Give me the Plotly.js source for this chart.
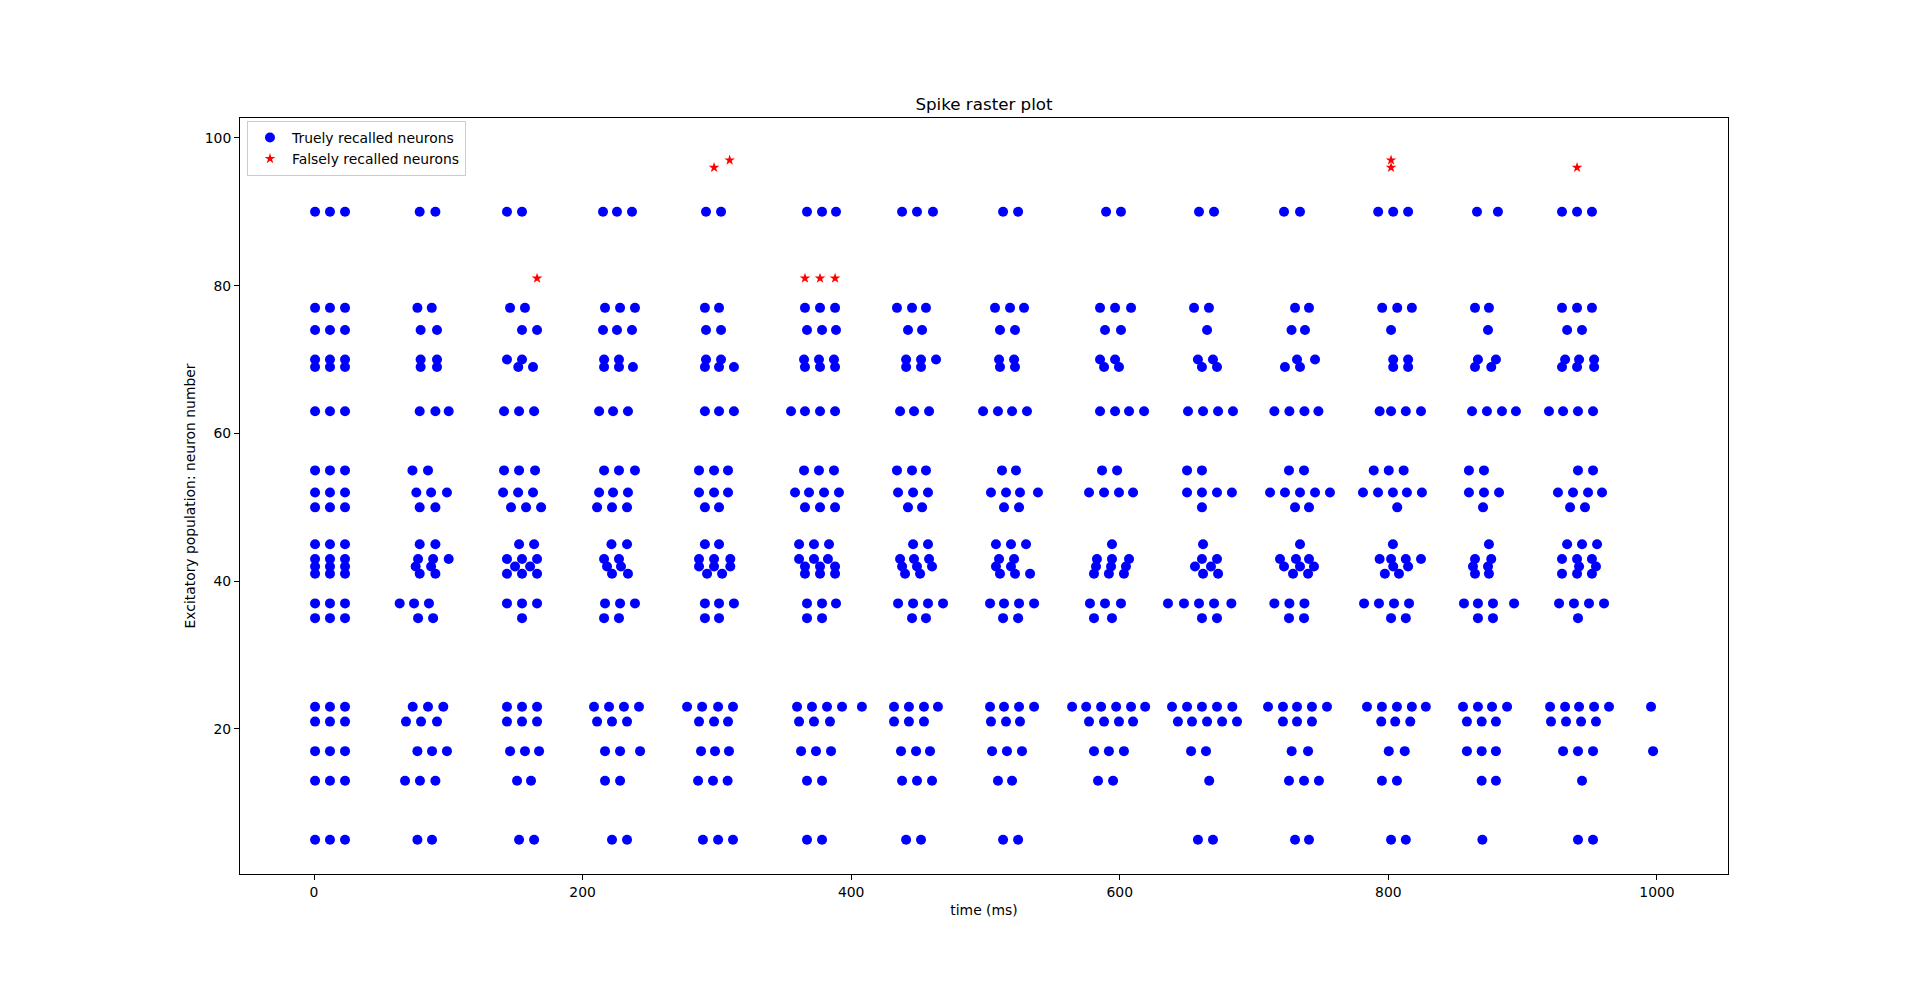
<!DOCTYPE html>
<html>
<head>
<meta charset="utf-8">
<script src="https://cdn.plot.ly/plotly-3.0.1.min.js"></script>
<style>html,body{margin:0;padding:0;background:#fff;}#chart{width:1920px;height:982px;}</style>
</head>
<body>
<div id="chart"></div>
<script>
// Neuron numbers (excitatory population) that fire in the recalled pattern
const neuronIds = [5, 13, 17, 21, 23, 35, 37, 41, 42, 43, 45, 50, 52, 55, 63, 69, 70, 74, 77, 90];

// Spike times (ms) of truly recalled neurons, one array per neuron
const t5  = [0.8, 11.9, 23.1, 77.0, 87.9, 152.7, 163.9, 221.9, 233.1, 289.6, 300.9, 312.0, 367.1, 378.3, 440.9, 452.0, 513.1, 524.3, 658.2, 669.4, 730.5, 740.9, 802.0, 813.0, 870.0, 941.2, 952.4];
const t13 = [0.8, 11.9, 23.1, 67.8, 78.9, 90.4, 151.2, 161.6, 216.7, 227.9, 286.0, 297.1, 308.0, 367.1, 378.3, 437.9, 449.0, 460.2, 509.3, 519.8, 583.8, 595.0, 666.6, 726.0, 737.2, 748.3, 795.2, 806.4, 869.5, 880.1, 944.2];
const t17 = [0.8, 11.9, 23.1, 77.0, 87.9, 99.0, 146.0, 157.1, 167.6, 216.7, 227.9, 242.8, 288.2, 298.6, 309.0, 362.7, 373.8, 385.0, 437.1, 448.3, 458.7, 504.9, 516.0, 527.2, 580.8, 591.9, 603.1, 653.1, 664.2, 728.0, 740.2, 800.3, 812.2, 858.5, 869.5, 880.1, 930.1, 941.2, 952.4, 997.1];
const t21 = [0.8, 11.9, 23.1, 68.5, 79.7, 91.6, 143.7, 154.9, 166.1, 210.8, 221.9, 233.1, 286.7, 297.9, 308.3, 361.2, 372.3, 384.2, 431.9, 443.0, 454.2, 504.1, 515.3, 525.7, 577.1, 588.3, 599.4, 609.9, 643.3, 653.8, 665.0, 676.2, 687.3, 721.5, 732.0, 743.1, 794.7, 805.1, 816.3, 858.5, 869.5, 880.1, 921.1, 932.3, 943.5, 954.6];
const t23 = [0.8, 11.9, 23.1, 73.5, 84.9, 96.3, 143.7, 154.9, 166.1, 208.5, 219.7, 230.8, 242.0, 277.8, 289.0, 300.9, 312.0, 359.7, 370.8, 382.0, 393.2, 408.0, 431.9, 443.0, 454.2, 464.6, 503.4, 513.8, 525.0, 536.2, 564.5, 575.0, 586.1, 597.3, 608.4, 618.9, 638.9, 650.1, 661.2, 672.4, 683.8, 710.4, 721.5, 732.0, 743.1, 754.3, 784.1, 795.2, 806.4, 817.5, 827.9, 855.6, 866.7, 877.2, 888.4, 920.4, 931.6, 942.0, 953.2, 964.3, 995.6];
const t35 = [0.8, 11.9, 23.1, 77.5, 88.7, 154.9, 216.0, 227.1, 291.1, 301.6, 367.1, 378.3, 445.3, 455.7, 513.1, 524.3, 580.8, 594.2, 661.2, 672.4, 726.0, 737.2, 802.0, 813.0, 866.7, 877.9, 941.2];
const t37 = [0.8, 11.9, 23.1, 63.8, 74.5, 85.6, 143.7, 154.9, 166.1, 216.7, 227.9, 239.0, 291.1, 301.6, 312.7, 367.1, 378.3, 388.7, 434.9, 446.1, 457.2, 468.4, 503.4, 513.8, 525.0, 536.2, 577.8, 589.0, 600.9, 635.9, 647.8, 659.0, 670.2, 683.1, 715.1, 726.3, 737.5, 781.9, 793.0, 804.2, 815.4, 856.3, 866.7, 877.9, 893.6, 927.1, 938.2, 949.4, 960.6];
const t41 = [0.8, 11.9, 23.1, 78.7, 90.4, 143.7, 154.9, 166.1, 221.9, 233.8, 292.7, 303.9, 365.6, 376.8, 388.0, 440.1, 451.3, 510.8, 522.0, 533.2, 580.8, 591.9, 603.1, 662.0, 673.2, 729.0, 740.2, 797.4, 807.9, 864.5, 874.9, 929.3, 940.5, 951.6];
const t42 = [0.8, 11.9, 23.1, 75.7, 87.2, 149.7, 160.9, 218.2, 228.6, 286.7, 297.9, 310.0, 365.6, 376.8, 388.0, 437.9, 449.0, 460.2, 507.8, 519.0, 582.3, 593.5, 604.6, 656.0, 667.9, 722.3, 734.2, 744.6, 803.6, 814.7, 863.0, 874.2, 942.0, 954.6];
const t43 = [0.8, 11.9, 23.1, 77.5, 88.7, 100.3, 143.7, 154.9, 166.1, 216.0, 227.1, 286.7, 297.9, 310.0, 361.2, 372.3, 382.7, 436.4, 446.8, 458.0, 510.1, 521.3, 583.0, 594.2, 606.9, 661.2, 672.4, 719.3, 731.2, 740.9, 793.5, 802.0, 813.0, 824.3, 864.5, 876.6, 929.3, 940.5, 951.6];
const t45 = [0.8, 11.9, 23.1, 78.7, 90.4, 152.7, 163.9, 221.5, 233.1, 291.1, 301.6, 361.2, 372.3, 383.5, 446.1, 457.2, 507.8, 519.0, 530.2, 594.2, 662.0, 734.2, 803.4, 874.9, 933.1, 944.2, 955.4];
const t50 = [0.8, 11.9, 23.1, 78.7, 90.4, 146.7, 157.9, 169.1, 210.8, 221.9, 233.1, 291.1, 301.6, 365.6, 376.8, 388.0, 442.3, 452.8, 513.8, 525.0, 661.2, 730.5, 740.9, 806.6, 870.5, 935.3, 946.4];
const t52 = [0.8, 11.9, 23.1, 76.2, 87.2, 99.0, 140.8, 152.0, 163.1, 212.3, 222.7, 233.8, 286.7, 297.9, 308.3, 358.2, 368.6, 379.8, 390.9, 434.9, 446.1, 457.2, 504.1, 515.3, 525.7, 539.1, 577.1, 588.3, 599.4, 609.9, 650.1, 661.2, 672.4, 683.5, 711.9, 723.0, 734.2, 745.4, 756.5, 781.1, 792.3, 803.4, 813.8, 825.0, 860.0, 871.2, 882.4, 926.3, 937.5, 948.7, 959.1];
const t55 = [0.8, 11.9, 23.1, 73.3, 84.9, 141.5, 152.7, 164.6, 216.0, 227.1, 239.0, 286.7, 297.9, 308.3, 364.9, 376.0, 387.2, 434.1, 445.3, 455.7, 512.3, 522.7, 586.8, 598.0, 650.1, 661.2, 726.0, 737.2, 789.1, 800.3, 811.4, 860.0, 871.2, 941.2, 952.4];
const t63 = [0.8, 11.9, 23.1, 78.7, 90.4, 100.3, 141.5, 152.7, 163.9, 212.3, 222.7, 233.8, 291.1, 301.6, 312.7, 355.2, 365.6, 376.8, 388.0, 436.4, 446.8, 458.0, 498.2, 509.3, 519.8, 530.9, 585.3, 596.5, 606.9, 618.1, 650.8, 662.0, 673.2, 684.3, 715.1, 726.3, 737.5, 747.9, 793.5, 802.0, 813.0, 824.3, 862.3, 873.4, 884.6, 895.0, 919.6, 930.1, 941.2, 952.4];
const t69 = [0.8, 11.9, 23.1, 79.4, 91.6, 152.1, 163.1, 216.0, 227.1, 237.5, 291.1, 301.6, 312.7, 365.6, 376.8, 388.0, 440.9, 452.0, 510.8, 522.0, 588.3, 599.4, 661.2, 672.4, 723.0, 734.2, 803.6, 814.7, 864.5, 876.6, 929.3, 940.5, 953.2];
const t70 = [0.8, 11.9, 23.1, 79.4, 91.6, 143.7, 154.9, 216.0, 227.1, 291.9, 303.1, 364.9, 376.0, 387.2, 440.9, 452.0, 463.2, 510.1, 521.3, 585.3, 596.5, 658.2, 669.4, 732.0, 745.4, 803.6, 814.7, 866.7, 880.1, 931.6, 942.0, 953.2];
const t74 = [0.8, 11.9, 23.1, 79.4, 91.6, 154.9, 166.1, 215.2, 225.6, 236.8, 291.9, 303.1, 367.1, 378.3, 388.7, 442.3, 452.8, 510.8, 522.0, 589.0, 600.9, 665.0, 727.9, 737.9, 802.0, 874.2, 933.1, 944.2];
const t77 = [0.8, 11.9, 23.1, 77.0, 87.7, 146.0, 157.1, 216.7, 227.9, 239.0, 291.1, 301.6, 365.6, 376.8, 388.0, 434.1, 445.3, 455.7, 507.1, 518.3, 528.7, 585.3, 596.5, 608.4, 655.3, 666.4, 730.5, 740.9, 795.4, 806.6, 817.5, 864.5, 874.9, 929.3, 940.5, 951.6];
const t90 = [0.8, 11.9, 23.1, 78.7, 90.4, 143.7, 154.9, 215.2, 225.6, 236.8, 291.9, 303.1, 367.1, 378.3, 388.7, 437.9, 449.0, 460.9, 513.1, 524.3, 589.8, 600.9, 659.0, 670.2, 722.3, 734.2, 792.4, 803.6, 814.7, 866.0, 881.6, 929.3, 940.5, 951.6];

// Falsely recalled neurons and their spike times (ms)
const falseIds = [81, 96, 97];
const f81 = [166.1, 365.6, 376.8, 388.0];
const f96 = [297.9, 802.0, 940.5];
const f97 = [309.5, 802.0];

const xTicks = [0, 200, 400, 600, 800, 1000];
const yTicks = [20, 40, 60, 80, 100];

const trueTimes = [t5, t13, t17, t21, t23, t35, t37, t41, t42, t43, t45, t50, t52, t55, t63, t69, t70, t74, t77, t90];
const falseTimes = [f81, f96, f97];

function flatten(ids, times) {
  const xs = [], ys = [];
  ids.forEach((id, i) => times[i].forEach(t => { xs.push(t); ys.push(id); }));
  return {xs, ys};
}
const tr = flatten(neuronIds, trueTimes);
const fr = flatten(falseIds, falseTimes);

const FONT = 'DejaVu Sans, Liberation Sans, sans-serif';

const data = [
  {
    type: 'scatter', mode: 'markers', name: 'Truely recalled neurons',
    x: tr.xs, y: tr.ys,
    marker: {color: '#0000ff', size: 10, symbol: 'circle', line: {width: 0}}
  },
  {
    type: 'scatter', mode: 'markers', name: 'Falsely recalled neurons',
    x: fr.xs, y: fr.ys,
    marker: {color: '#ff0000', size: 8, symbol: 'star', line: {width: 0}}
  }
];

const layout = {
  width: 1920, height: 982, autosize: false,
  paper_bgcolor: '#ffffff', plot_bgcolor: '#ffffff',
  margin: {l: 240, r: 192, t: 118, b: 108, pad: 0},
  font: {family: FONT, size: 13.9, color: '#000000'},
  title: {text: 'Spike raster plot', font: {family: FONT, size: 16.7, color: '#000'},
          x: 0.5, xref: 'paper', xanchor: 'center', y: 1 - 104/982, yref: 'container', yanchor: 'middle'},
  xaxis: {
    range: [-55.1, 1052.9], tickvals: xTicks, ticktext: xTicks.map(String),
    ticks: 'outside', ticklen: 5, tickwidth: 1, tickcolor: '#000',
    showline: true, mirror: true, linecolor: '#000', linewidth: 1,
    showgrid: false, zeroline: false,
    tickfont: {family: FONT, size: 13.9, color: '#000'},
    title: {text: 'time (ms)', font: {family: FONT, size: 13.9, color: '#000'}, standoff: 6}
  },
  yaxis: {
    range: [0.37, 102.7], tickvals: yTicks, ticktext: yTicks.map(String),
    ticks: 'outside', ticklen: 5, tickwidth: 1, tickcolor: '#000',
    showline: true, mirror: true, linecolor: '#000', linewidth: 1,
    showgrid: false, zeroline: false,
    tickfont: {family: FONT, size: 13.9, color: '#000'},
    title: {text: 'Excitatory population: neuron number', font: {family: FONT, size: 13.9, color: '#000'}, standoff: 5.5}
  },
  showlegend: true,
  legend: {
    x: 0.0047, y: 0.996, xanchor: 'left', yanchor: 'top',
    itemwidth: 34,
    bgcolor: 'rgba(255,255,255,0.8)', bordercolor: '#cccccc', borderwidth: 1,
    font: {family: FONT, size: 13.9, color: '#000'}
  }
};

Plotly.newPlot('chart', data, layout, {displayModeBar: false, staticPlot: true});
</script>
</body>
</html>
